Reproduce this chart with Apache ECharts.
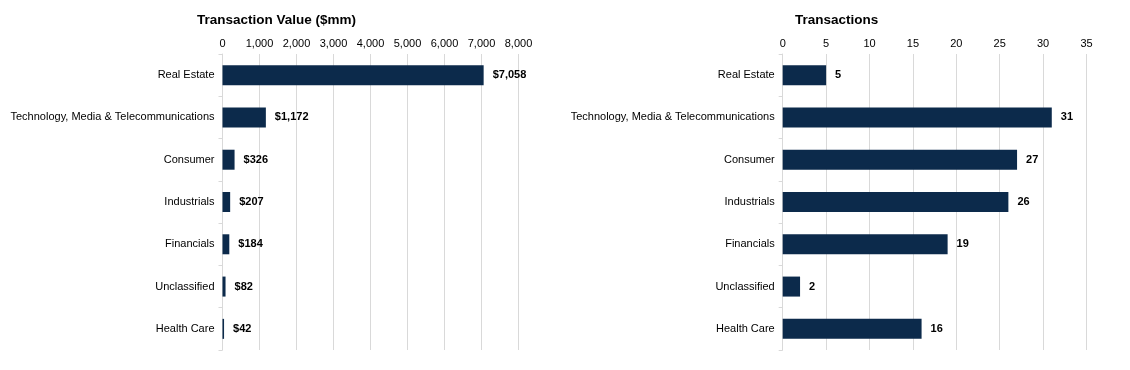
<!DOCTYPE html>
<html><head><meta charset="utf-8">
<script src="https://cdn.jsdelivr.net/npm/echarts@6/dist/echarts.min.js"></script>
<style>html,body{margin:0;padding:0;background:#fff}#c{width:1130px;height:370px}</style>
</head><body><div id="c"></div>
<script>
const categories = ["Real Estate","Technology, Media & Telecommunications","Consumer","Industrials","Financials","Unclassified","Health Care"];
const transactionValues = [7058,1172,326,207,184,82,42];
const transactionCounts = [5,31,27,26,19,2,16];
const valueTicks = {min:0,max:8000,interval:1000};
const countTicks = {min:0,max:35,interval:5};

const FONT = '"Liberation Sans", Arial, sans-serif';
const BAR = '#0c2a4b';
const chart = echarts.init(document.getElementById('c'), null, {renderer:'canvas'});

function catAxis(gi){
  return {type:'category', gridIndex:gi, data:categories, inverse:true,
    axisLine:{show:true, lineStyle:{color:'#d9d9d9', width:1}},
    axisTick:{show:true, length:4, lineStyle:{color:'#d9d9d9'}},
    axisLabel:{color:'#000', fontFamily:FONT, fontSize:11, margin:8}};
}
function valAxis(gi, t, fmt){
  return {type:'value', gridIndex:gi, position:'top', min:t.min, max:t.max, interval:t.interval,
    axisLine:{show:false}, axisTick:{show:false},
    splitLine:{show:true, lineStyle:{color:'#d9d9d9', width:1}},
    axisLabel:{color:'#000', fontFamily:FONT, fontSize:11, margin:5, formatter:fmt}};
}
chart.setOption({
  animation:false,
  title:[
    {text:'Transaction Value ($mm)', left:192, top:8, textStyle:{fontFamily:FONT, fontSize:13.5, fontWeight:'bold', color:'#000'}},
    {text:'Transactions', left:790, top:8, textStyle:{fontFamily:FONT, fontSize:13.5, fontWeight:'bold', color:'#000'}}
  ],
  grid:[
    {left:222.5, right:1130-518.5, top:54, bottom:20},
    {left:782.7, right:1130-1086.5, top:54, bottom:20}
  ],
  xAxis:[
    valAxis(0, valueTicks, v=>v.toLocaleString('en-US')),
    valAxis(1, countTicks, v=>String(v))
  ],
  yAxis:[catAxis(0), catAxis(1)],
  series:[
    {type:'bar', xAxisIndex:0, yAxisIndex:0, data:transactionValues, barWidth:20,
     itemStyle:{color:BAR},
     label:{show:true, position:'right', distance:9, color:'#000', fontFamily:FONT, fontSize:11, fontWeight:'bold',
       formatter:p=>'$'+p.value.toLocaleString('en-US')}},
    {type:'bar', xAxisIndex:1, yAxisIndex:1, data:transactionCounts, barWidth:20,
     itemStyle:{color:BAR},
     label:{show:true, position:'right', distance:9, color:'#000', fontFamily:FONT, fontSize:11, fontWeight:'bold'}}
  ]
});
</script></body></html>
